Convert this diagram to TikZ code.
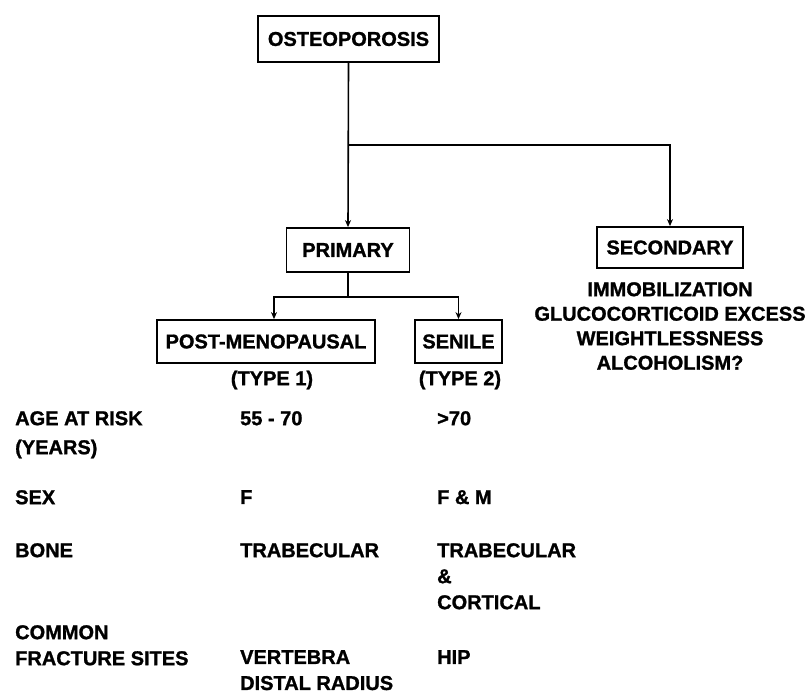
\documentclass[tikz,border=0pt]{standalone}
\usepackage{fontspec}
\setmainfont{Liberation Sans}[BoldFeatures={FakeBold=1.2}]
\usetikzlibrary{arrows.meta, calc}
\tikzset{
  box/.style={draw, line width=1.8pt, inner xsep=4pt, inner ysep=0pt, minimum height=44pt},
  link/.style={line width=1.6pt},
  arrow/.style={link, -{Stealth[length=7pt, width=6pt]}},
  entry/.style={anchor=north west, inner sep=0pt, align=left},
  every node/.append style={font=\fontsize{20}{26}\selectfont\bfseries}
}

\begin{document}
\begin{tikzpicture}[x=1pt, y=-1pt]
\useasboundingbox (0,0) rectangle (810,693);

% tree
\node[box, minimum width=181pt, minimum height=46pt] (osteo) at (348.5,39) {OSTEOPOROSIS};
\node[box, minimum width=123pt] (primary) at (348,250) {PRIMARY};
\node[box, minimum width=146pt, minimum height=41pt] (secondary) at (670,247.5) {SECONDARY};
\node[box, minimum width=218pt, minimum height=43pt] (postmeno) at (266,341.5) {POST-MENOPAUSAL};
\node[box, minimum width=87pt, minimum height=43pt] (senile) at (458.5,341.5) {SENILE};
\node[inner sep=0pt] (type1) at (272,380) {(TYPE 1)};
\node[inner sep=0pt] (type2) at (460,380) {(TYPE 2)};
\node[anchor=north, inner sep=0pt, align=center,
      font=\fontsize{20}{24.5}\selectfont\bfseries] (causes) at (670,282)
  {IMMOBILIZATION\\GLUCOCORTICOID EXCESS\\WEIGHTLESSNESS\\ALCOHOLISM?};

\coordinate (fork) at (348,145);
\coordinate (split) at (348,297);
\draw[arrow] (osteo.south) -- (primary.north);
\draw[arrow] (fork) -| (secondary.north);
\draw[link] (primary.south) -- (split);
\draw[arrow] (split) -| ([xshift=8pt]postmeno.north);
\draw[arrow] (split) -| (senile.north);

% table
\node[entry] (agehead) at (15,411) {AGE AT RISK\\[3pt](YEARS)};
\node[entry] (age1) at (240,411) {55 - 70};
\node[entry] (age2) at (437,411) {>70};

\node[entry] (sexhead) at (15,490) {SEX};
\node[entry] (sex1) at (240,490) {F};
\node[entry] (sex2) at (437,490) {F \& M};

\node[entry] (bonehead) at (15,543) {BONE};
\node[entry] (bone1) at (240,543) {TRABECULAR};
\node[entry] (bone2) at (437,543) {TRABECULAR\\\&\\CORTICAL};

\node[entry] (sitehead) at (15,625) {COMMON\\FRACTURE SITES};
\node[entry] (site1) at (240,650) {VERTEBRA\\DISTAL RADIUS};
\node[entry] (site2) at (437,650) {HIP};
\end{tikzpicture}
\end{document}
